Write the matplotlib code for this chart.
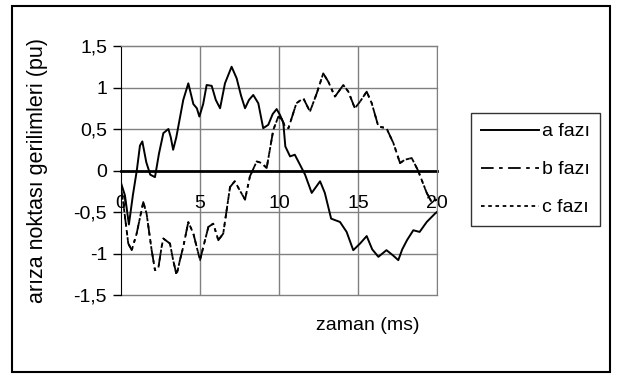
import numpy as np
import matplotlib
matplotlib.use('Agg')
import matplotlib.pyplot as plt
from matplotlib.patches import Rectangle

# okunan degerler (ms, pu)
t_a = [0, 0.25, 0.5, 0.75, 1.0, 1.2, 1.35, 1.6, 1.85, 2.15, 2.4, 2.68, 3.0, 3.15, 3.3,
       3.5, 3.94, 4.26, 4.58, 4.8, 4.96, 5.2, 5.42, 5.74, 6.0, 6.27, 6.58, 7.0, 7.32,
       7.6, 7.85, 8.1, 8.37, 8.69, 9.0, 9.32, 9.6, 9.85, 10.06, 10.27, 10.4, 10.7, 11.0,
       11.3, 11.65, 12.07, 12.6, 12.9, 13.3, 13.86, 14.28, 14.7, 15.13, 15.55, 15.9,
       16.29, 16.8, 17.2, 17.55, 17.8, 18.1, 18.5, 18.9, 19.35, 19.87, 20.0]
v_a = [-0.15, -0.3, -0.65, -0.3, 0.0, 0.3, 0.35, 0.1, -0.05, -0.08, 0.2, 0.45, 0.5, 0.4,
       0.25, 0.4, 0.85, 1.05, 0.8, 0.75, 0.65, 0.8, 1.03, 1.02, 0.85, 0.75, 1.05, 1.25,
       1.11, 0.9, 0.75, 0.85, 0.91, 0.81, 0.51, 0.55, 0.68, 0.74, 0.67, 0.58, 0.29, 0.17,
       0.19, 0.08, -0.05, -0.27, -0.13, -0.27, -0.58, -0.62, -0.74, -0.96, -0.88, -0.79,
       -0.95, -1.04, -0.96, -1.02, -1.08, -0.95, -0.84, -0.72, -0.74, -0.62, -0.52, -0.5]

t_b = [0, 0.15, 0.46, 0.68, 0.99, 1.41, 1.62, 1.94, 2.15, 2.36, 2.57, 2.68, 3.1, 3.3, 3.52,
       3.73, 3.94, 4.26, 4.58, 5.0, 5.21, 5.53, 5.84, 6.16, 6.47, 6.9, 7.2, 7.55, 7.85,
       8.16, 8.59, 8.9, 9.22, 9.64, 9.96, 10.17, 10.38, 10.6, 11.1, 11.54, 11.96, 12.39,
       12.8, 13.12, 13.54, 14.07, 14.39, 14.8, 15.13, 15.55, 15.87, 16.29, 16.8, 17.24,
       17.66, 17.97, 18.4, 18.8, 19.35, 19.66, 20.0]
v_b = [-0.2, -0.4, -0.88, -0.96, -0.76, -0.38, -0.52, -0.96, -1.2, -1.18, -0.92, -0.82,
       -0.88, -1.08, -1.26, -1.08, -0.92, -0.62, -0.76, -1.08, -0.92, -0.68, -0.64, -0.84,
       -0.76, -0.2, -0.13, -0.25, -0.35, -0.07, 0.11, 0.09, 0.03, 0.49, 0.65, 0.62, 0.53,
       0.51, 0.81, 0.87, 0.71, 0.93, 1.17, 1.07, 0.89, 1.03, 0.95, 0.75, 0.83, 0.95, 0.81,
       0.53, 0.51, 0.33, 0.09, 0.13, 0.15, 0.0, -0.27, -0.38, -0.35]

# c fazi b ile ust uste
t_c = t_b
v_c = v_b

x_ticks = [0, 5, 10, 15, 20]
y_ticks = [-1.5, -1, -0.5, 0, 0.5, 1, 1.5]
y_labels = ['-1,5', '-1', '-0,5', '0', '0,5', '1', '1,5']

plt.rcParams['font.family'] = ['Liberation Sans', 'DejaVu Sans']

fig = plt.figure(figsize=(6.24, 3.79), dpi=100)
W, H = 624, 379
ax = fig.add_axes([121 / W, 1 - 295 / H, (437 - 121) / W, (295 - 46) / H])

ax.set_xlim(0, 20)
ax.set_ylim(-1.5, 1.5)

grid_c = '#808080'
for y in y_ticks:
    if y != 0:
        ax.axhline(y, color=grid_c, lw=1.0, zorder=1, clip_on=False)
for x in x_ticks[1:]:
    ax.axvline(x, color=grid_c, lw=1.0, zorder=1)

ax.plot(t_a, v_a, color='black', lw=1.4, label='a fazı', zorder=3)
ax.plot(t_b, v_b, color='black', lw=1.3, dashes=(7, 3, 2, 3), label='b fazı', zorder=3)
ax.plot(t_c, v_c, color='black', lw=1.3, dashes=(2, 2), label='c fazı', zorder=3)

for s in ['top', 'right']:
    ax.spines[s].set_color(grid_c)
ax.spines['left'].set_color('black')
ax.spines['bottom'].set_position(('data', 0))
ax.spines['bottom'].set_color('black')
ax.spines['bottom'].set_linewidth(2.0)
ax.spines['bottom'].set_zorder(2)

ax.set_yticks(y_ticks)
ax.set_yticklabels(y_labels, fontsize=14)
ax.set_xticks(x_ticks)
ax.set_xticklabels([str(x) for x in x_ticks], fontsize=14)
ax.tick_params(axis='y', direction='out', length=6, width=1, pad=4)
ax.tick_params(axis='x', length=0, pad=18)

ax.set_ylabel('arıza noktası gerilimleri (pu)', fontsize=15.5)
ax.yaxis.set_label_coords(-0.231, 0.5)
fig.text(368 / W, 1 - 326 / H, 'zaman (ms)', fontsize=14, ha='center', va='center')

leg = fig.legend(loc='upper left', bbox_to_anchor=(471 / W, 1 - 113 / H),
                 fontsize=14, frameon=True, fancybox=False, edgecolor='black',
                 handlelength=3.0, handletextpad=0.15, labelspacing=1.05,
                 borderpad=0.5, borderaxespad=0)
leg.get_frame().set_linewidth(1.0)

fig.patches.append(Rectangle((12 / W, 1 - 372 / H), (610 - 12) / W, (372 - 6) / H,
                             transform=fig.transFigure, fill=False,
                             edgecolor='black', lw=1.5))

fig.savefig('out.png', dpi=100)
